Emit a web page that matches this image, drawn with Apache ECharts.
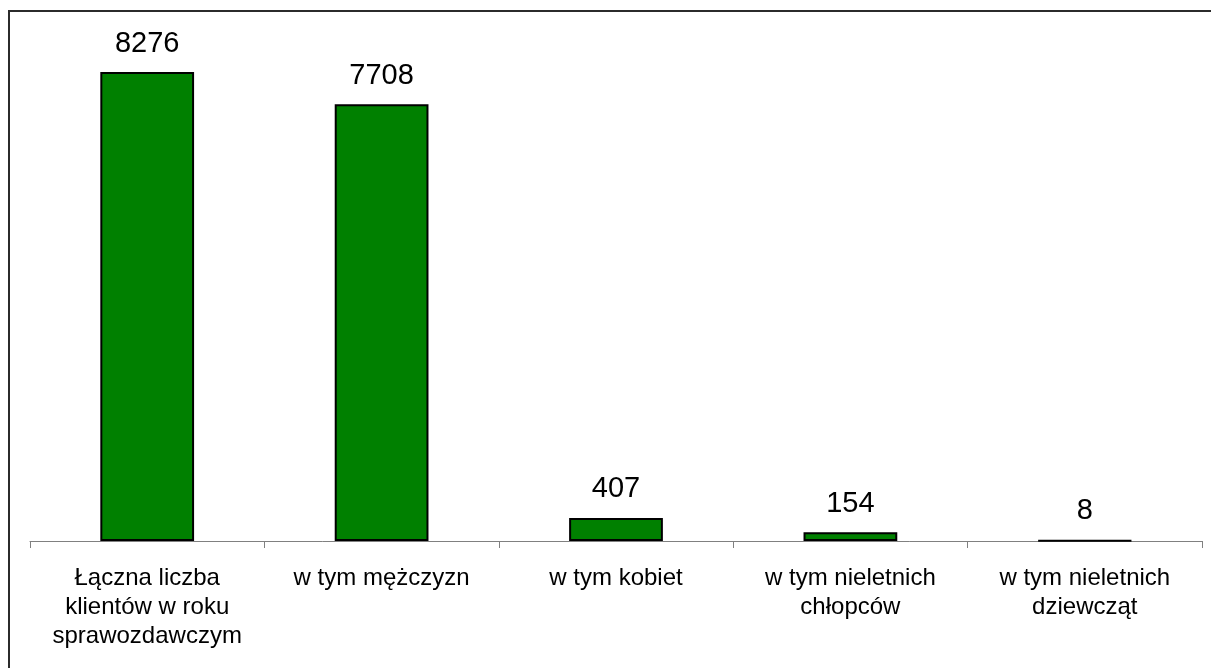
<!DOCTYPE html>
<html>
<head>
<meta charset="utf-8">
<script src="https://cdn.jsdelivr.net/npm/echarts@6/dist/echarts.min.js"></script>
<style>
html,body{margin:0;padding:0;background:#fff;}
#frame{position:absolute;left:8px;top:10px;width:1220px;height:680px;border-left:2px solid #2b2b2b;border-top:2px solid #2b2b2b;}
#chart{position:absolute;left:0;top:0;width:1211px;height:668px;}
</style>
</head>
<body>
<div id="frame"></div>
<div id="chart"></div>
<script>
const categories = [
  "Łączna liczba\nklientów w roku\nsprawozdawczym",
  "w tym mężczyzn",
  "w tym kobiet",
  "w tym nieletnich\nchłopców",
  "w tym nieletnich\ndziewcząt"
];
const values = [8276, 7708, 407, 154, 8];

const chart = echarts.init(document.getElementById('chart'));
chart.setOption({
  animation: false,
  grid: {left: 30, right: 9, top: 31, bottom: 127, containLabel: false},
  xAxis: {
    type: 'category',
    data: categories,
    boundaryGap: true,
    axisLine: {show: true, lineStyle: {color: '#808080', width: 1}},
    axisTick: {show: true, alignWithLabel: false, length: 7, lineStyle: {color: '#808080', width: 1}},
    axisLabel: {
      interval: 0,
      margin: 23,
      fontFamily: 'Liberation Sans, Arial, sans-serif',
      fontSize: 24,
      lineHeight: 29,
      color: '#000',
      align: 'center'
    }
  },
  yAxis: {
    type: 'value',
    min: 0,
    max: 9000,
    show: false,
    splitLine: {show: false}
  },
  series: [{
    type: 'bar',
    data: values,
    barWidth: '40%',
    itemStyle: {color: '#008000', borderColor: '#000', borderWidth: 2},
    label: {
      show: true,
      position: 'top',
      distance: 14,
      fontFamily: 'Liberation Sans, Arial, sans-serif',
      fontSize: 29,
      color: '#000'
    }
  }]
});
</script>
</body>
</html>
